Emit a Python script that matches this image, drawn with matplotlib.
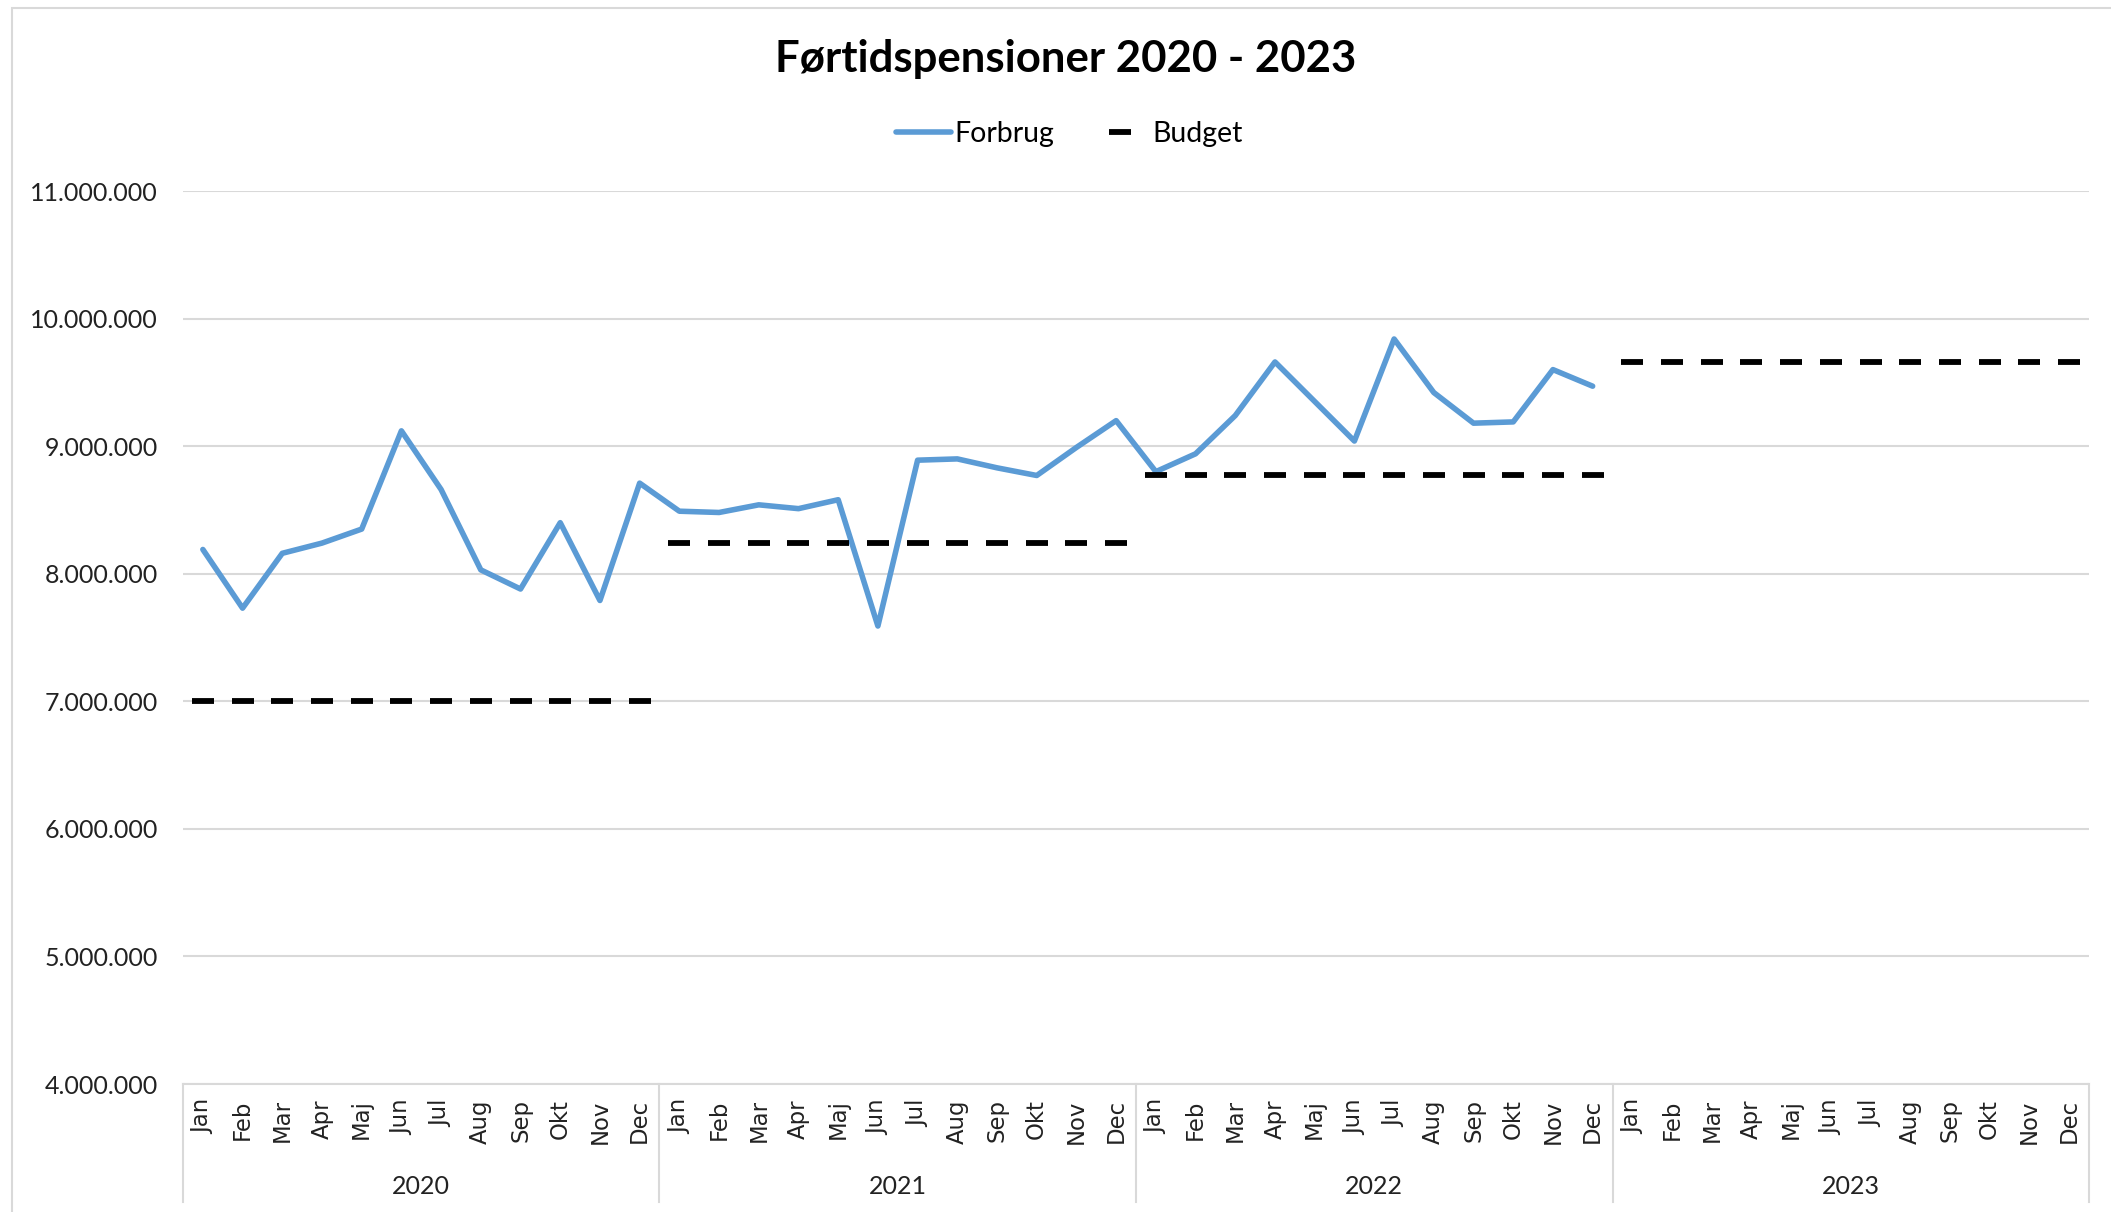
import matplotlib
matplotlib.use("Agg")
import matplotlib.pyplot as plt
import matplotlib.transforms as mtransforms
from matplotlib.patches import Rectangle
import numpy as np

months = ["Jan", "Feb", "Mar", "Apr", "Maj", "Jun", "Jul", "Aug", "Sep", "Okt", "Nov", "Dec"]
years = ["2020", "2021", "2022", "2023"]

forbrug_2020 = [8.19, 7.73, 8.16, 8.24, 8.35, 9.12, 8.66, 8.03, 7.88, 8.40, 7.79, 8.71]
forbrug_2021 = [8.49, 8.48, 8.54, 8.51, 8.58, 7.59, 8.89, 8.90, 8.83, 8.77, 8.99, 9.20]
forbrug_2022 = [8.80, 8.94, 9.24, 9.66, 9.35, 9.04, 9.84, 9.42, 9.18, 9.19, 9.60, 9.47]
forbrug_mio = forbrug_2020 + forbrug_2021 + forbrug_2022

budget_mio = [7.00, 8.24, 8.77, 9.66]  # per year

yticks_mio = [4, 5, 6, 7, 8, 9, 10, 11]

W, H = 2111, 1212
fig = plt.figure(figsize=(W / 100, H / 100), dpi=100)
fig.patch.set_facecolor("white")

# outer chart border
fig.patches.append(Rectangle((12 / W, -0.01), 1.2, (1212 - 8) / H + 0.01,
                             transform=fig.transFigure, fill=False,
                             edgecolor="#d9d9d9", linewidth=1.5))

left, right, top, bottom = 183, 2089, 191, 1084
ax = fig.add_axes([left / W, 1 - bottom / H, (right - left) / W, (bottom - top) / H])

n = len(months) * len(years)
x = np.arange(n)

ax.plot(x[:len(forbrug_mio)], np.array(forbrug_mio) * 1e6, color="#5B9BD5",
        linewidth=4.0, solid_joinstyle="round", solid_capstyle="round",
        label="Forbrug", zorder=3)

# Budget: one dash centred on each month
budget_monthly = np.repeat(np.array(budget_mio) * 1e6, len(months))
ax.plot(x, budget_monthly, color="black", linestyle="None", marker="_",
        markersize=15.5, markeredgewidth=4.2, label="Budget", zorder=4)

ax.set_xlim(-0.5, n - 0.5)
ax.set_ylim(4e6, 11e6)

ax.set_yticks([v * 1e6 for v in yticks_mio])
ax.set_yticklabels(["{:,}".format(v * 1000000).replace(",", ".") for v in yticks_mio],
                   family="Lato", fontsize=18, color="#222222")
ax.grid(axis="y", color="#d9d9d9", linewidth=1.5, zorder=0)
ax.set_axisbelow(True)
ax.tick_params(axis="y", length=0, pad=18)

ax.set_xticks(x)
ax.set_xticklabels(months * len(years), rotation=90, family="DejaVu Sans",
                   fontsize=16.4, color="#222222")
ax.tick_params(axis="x", length=0, pad=11)

for s in ["left", "right", "top"]:
    ax.spines[s].set_visible(False)
ax.spines["bottom"].set_color("#d9d9d9")
ax.spines["bottom"].set_linewidth(1.5)

trans = mtransforms.blended_transform_factory(ax.transData, ax.transAxes)
sep_bottom = -(1202 - bottom) / (bottom - top)
for k in range(len(years) + 1):
    xv = k * 12 - 0.5
    ax.plot([xv, xv], [0, sep_bottom], transform=trans, color="#d9d9d9",
            linewidth=1.5, clip_on=False)
for k, yr in enumerate(years):
    ax.text(k * 12 + 5.5, -(1186 - bottom) / (bottom - top), yr, transform=trans,
            ha="center", va="center", family="Lato", fontsize=18, color="#222222")

fig.text(1066 / W, 1 - 59 / H, "Førtidspensioner 2020 - 2023", ha="center", va="center",
         family="Lato", fontweight="bold", fontsize=31.5, color="black")

leg = fig.legend(loc="center", bbox_to_anchor=(1069 / W, 1 - 134 / H), ncol=2,
                 frameon=False, prop={"family": "Lato", "size": 20.5},
                 handlelength=1.93, handletextpad=0.14, columnspacing=1.35,
                 borderpad=0, borderaxespad=0)

fig.savefig("out.png", dpi=100)
